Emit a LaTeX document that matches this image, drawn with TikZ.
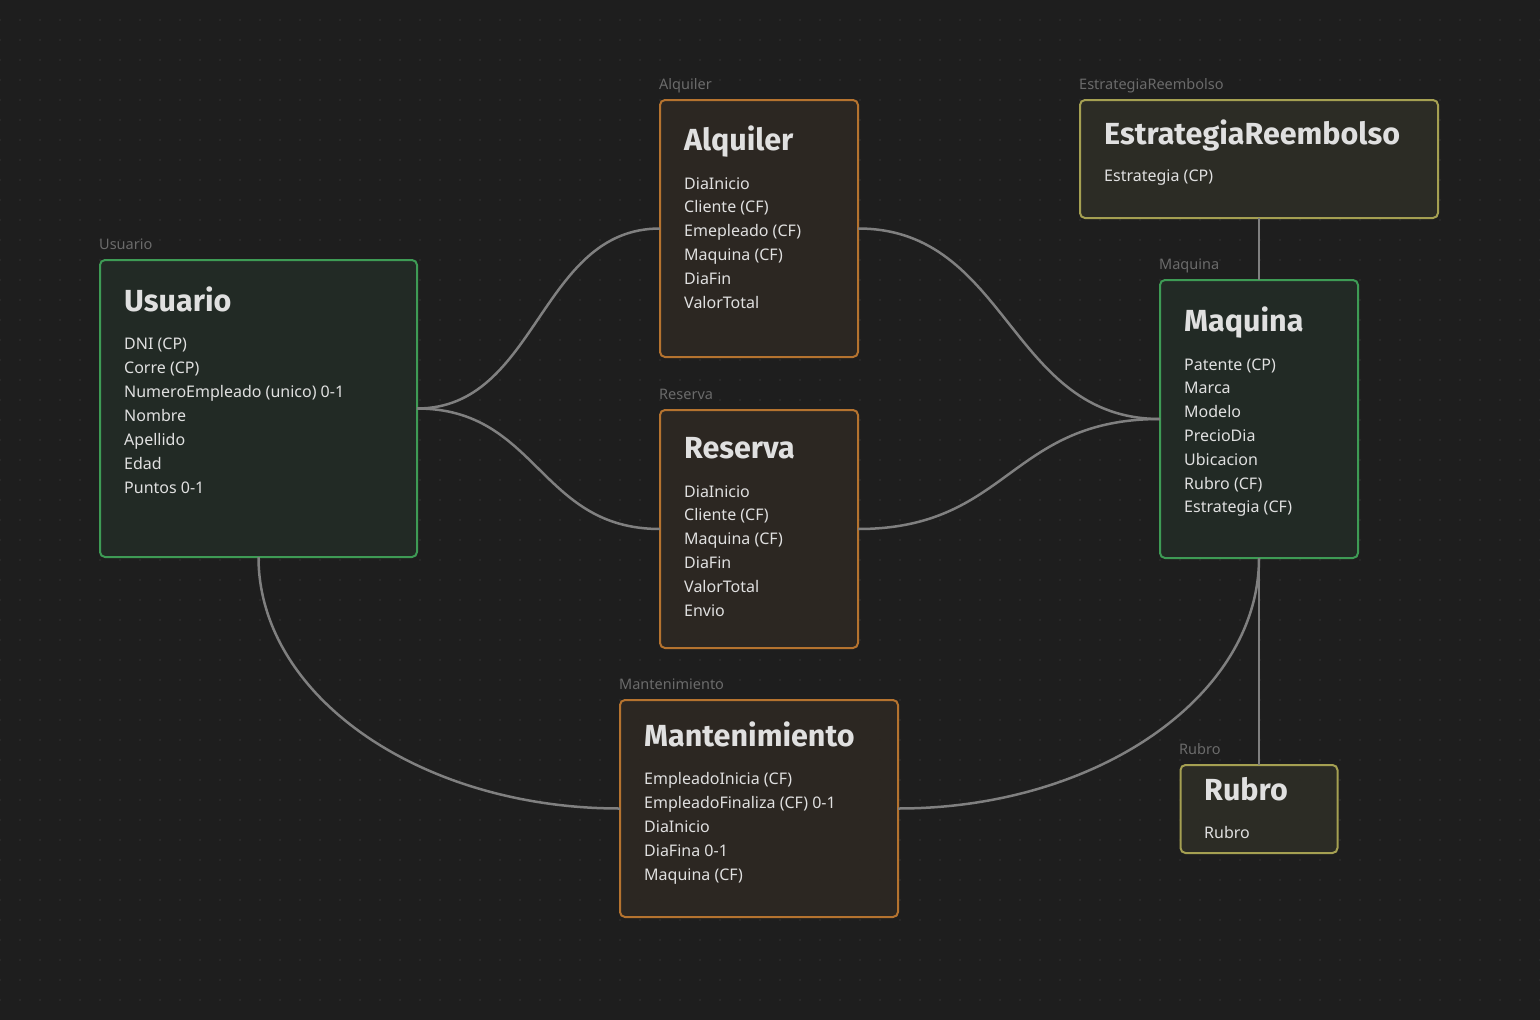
\documentclass[tikz,border=0pt]{standalone}
\usepackage{fontspec}
\setmainfont{Noto Sans}
\newfontfamily\ttlfont{Fira Sans}
\definecolor{bg}{HTML}{1E1E1E}
\definecolor{gridc}{HTML}{282828}
\definecolor{gline}{HTML}{3E9B55}
\definecolor{gfill}{HTML}{222A25}
\definecolor{oline}{HTML}{B5732F}
\definecolor{ofill}{HTML}{2C2722}
\definecolor{yline}{HTML}{A5A052}
\definecolor{yfill}{HTML}{2C2C25}
\definecolor{lbl}{HTML}{6B6B6B}
\definecolor{txt}{HTML}{E0E0E0}
\definecolor{conn}{HTML}{808080}
\begin{document}
\begin{tikzpicture}[x=1pt,y=-1pt,
  ent/.style={draw, line width=2pt, rounded corners=5pt, inner sep=0pt, outer sep=0pt},
  greenbox/.style={ent, draw=gline, fill=gfill},
  orangebox/.style={ent, draw=oline, fill=ofill},
  yellowbox/.style={ent, draw=yline, fill=yfill},
  ttl/.style={anchor=base west, inner sep=0pt, text=txt, font=\ttlfont\bfseries\fontsize{30.5}{32}\selectfont},
  attr/.style={anchor=base west, inner sep=0pt, text=txt, font=\fontsize{16}{18}\selectfont},
  lab/.style={anchor=base west, inner sep=0pt, text=lbl, font=\fontsize{14.5}{16}\selectfont},
  conline/.style={draw=conn, line width=2.5pt}]
\fill[bg] (0,0) rectangle (1540,1020);
\useasboundingbox (0,0) rectangle (1540,1020);
% faint dot grid
\foreach \r in {1,...,50}
  \draw[gridc, line width=1.2pt, dash pattern=on 1.2pt off 18.8pt, dash phase=-19.4pt] (0,{20*\r}) -- (1540,{20*\r});

% boxes
\node[greenbox, minimum width=317pt, minimum height=297pt] (usuario) at (258.5,408.5) {};
\node[orangebox, minimum width=198pt, minimum height=257pt] (alquiler) at (759,228.5) {};
\node[orangebox, minimum width=198pt, minimum height=238pt] (reserva) at (759,529) {};
\node[yellowbox, minimum width=358pt, minimum height=118pt] (estrategia) at (1259,159) {};
\node[greenbox, minimum width=198pt, minimum height=278pt] (maquina) at (1259,419) {};
\node[orangebox, minimum width=278pt, minimum height=217pt] (mant) at (759,808.5) {};
\node[yellowbox, minimum width=157pt, minimum height=88pt] (rubro) at (1259,809) {};

% connectors
\draw[conline] (usuario.east) .. controls +(121,0) and +(-121,0) .. (alquiler.west);
\draw[conline] (usuario.east) .. controls +(121,0) and +(-121,0) .. (reserva.west);
\draw[conline] (alquiler.east) .. controls +(151,0) and +(-151,0) .. (maquina.west);
\draw[conline] (reserva.east) .. controls +(151,0) and +(-151,0) .. (maquina.west);
\draw[conline] (usuario.south) .. controls +(0,139) and +(-200,0) .. (mant.west);
\draw[conline] (maquina.south) .. controls +(0,138) and +(199,0) .. (mant.east);
\draw[conline] (estrategia.south) -- (maquina.north);
\draw[conline] (maquina.south) -- (rubro.north);

% Usuario
\node[lab] (usuario-l) at (99,249) {Usuario};
\node[ttl] (usuario-t) at (124,311) {Usuario};
\foreach \t [count=\i] in {DNI (CP),Corre (CP),NumeroEmpleado (unico) 0-1,Nombre,Apellido,Edad,Puntos 0-1}
  \node[attr] (usuario-a\i) at (124,{349+24*(\i-1)}) {\t};

% Alquiler
\node[lab] (alquiler-l) at (659,89) {Alquiler};
\node[ttl] (alquiler-t) at (684,150.5) {Alquiler};
\foreach \t [count=\i] in {DiaInicio,Cliente (CF),Emepleado (CF),Maquina (CF),DiaFin,ValorTotal}
  \node[attr] (alquiler-a\i) at (684,{189+23.8*(\i-1)}) {\t};

% Reserva
\node[lab] (reserva-l) at (659,399) {Reserva};
\node[ttl] (reserva-t) at (684,458.5) {Reserva};
\foreach \t [count=\i] in {DiaInicio,Cliente (CF),Maquina (CF),DiaFin,ValorTotal,Envio}
  \node[attr] (reserva-a\i) at (684,{497+23.8*(\i-1)}) {\t};

% EstrategiaReembolso
\node[lab] (estrategia-l) at (1079,89) {EstrategiaReembolso};
\node[ttl] (estrategia-t) at (1104,144.5) {EstrategiaReembolso};
\node[attr] (estrategia-a1) at (1104,181) {Estrategia (CP)};

% Maquina
\node[lab] (maquina-l) at (1159,269) {Maquina};
\node[ttl] (maquina-t) at (1184,331.5) {Maquina};
\foreach \t [count=\i] in {Patente (CP),Marca,Modelo,PrecioDia,Ubicacion,Rubro (CF),Estrategia (CF)}
  \node[attr] (maquina-a\i) at (1184,{370+23.8*(\i-1)}) {\t};

% Mantenimiento
\node[lab] (mant-l) at (619,689) {Mantenimiento};
\node[ttl] (mant-t) at (644,746.5) {Mantenimiento};
\foreach \t [count=\i] in {EmpleadoInicia (CF),EmpleadoFinaliza (CF) 0-1,DiaInicio,DiaFina 0-1,Maquina (CF)}
  \node[attr] (mant-a\i) at (644,{784+24.2*(\i-1)}) {\t};

% Rubro
\node[lab] (rubro-l) at (1179,754) {Rubro};
\node[ttl] (rubro-t) at (1204,800.5) {Rubro};
\node[attr] (rubro-a1) at (1204,838) {Rubro};
\end{tikzpicture}
\end{document}
